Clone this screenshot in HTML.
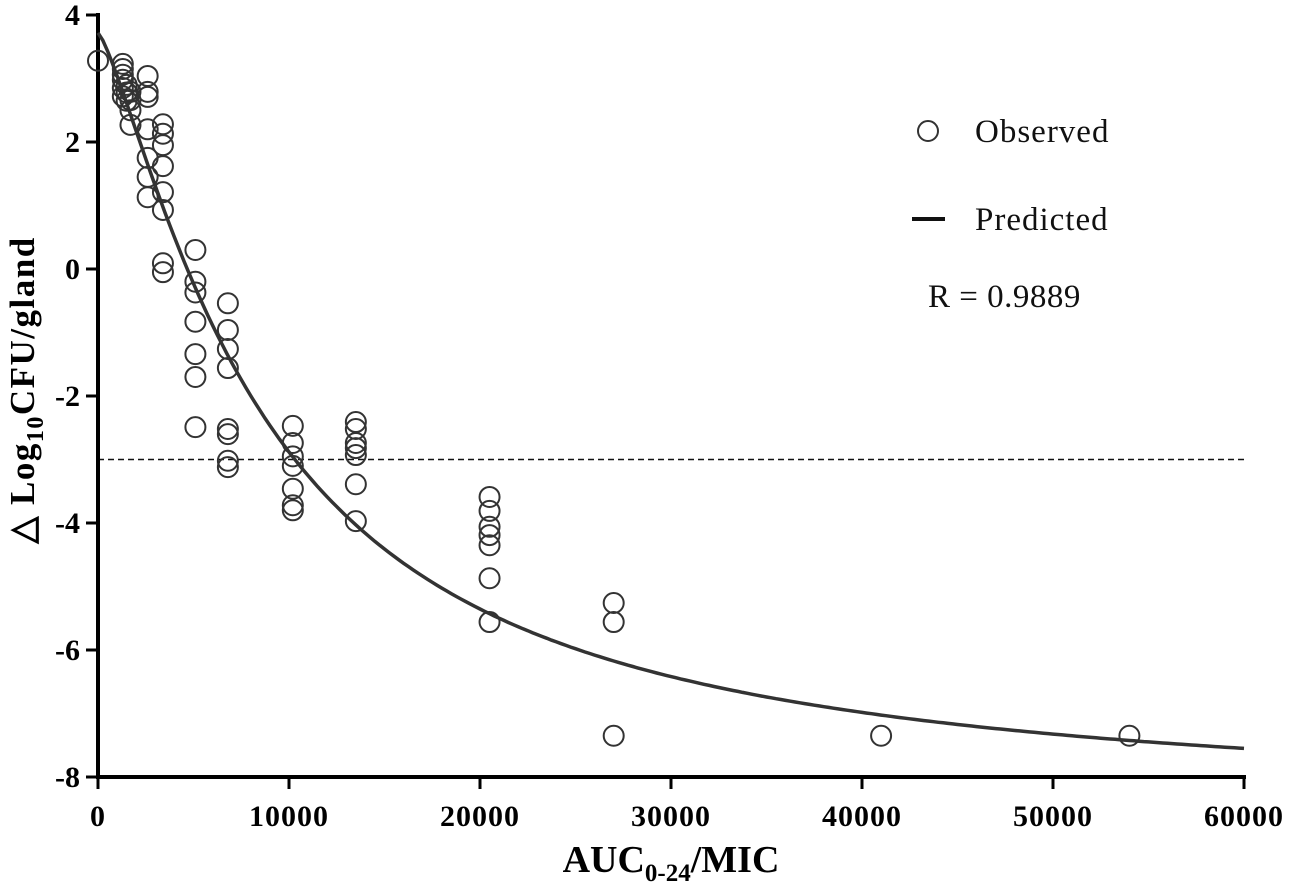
<!DOCTYPE html>
<html><head><meta charset="utf-8"><style>
html,body{margin:0;padding:0;background:#fff;}
svg{display:block;font-family:"Liberation Serif",serif;}
</style></head><body>
<svg id="chart" width="1293" height="887" viewBox="0 0 1293 887">
<g id="axes"></g>
<g id="marks"></g>
<text transform="translate(34,390) rotate(-90)" text-anchor="middle" font-weight="bold" font-size="35" letter-spacing="1.5" fill="#000">△ Log<tspan font-size="24" dy="9">10</tspan><tspan dy="-9">CFU/gland</tspan></text>
<text x="671" y="872" text-anchor="middle" font-weight="bold" font-size="38" fill="#000">AUC<tspan font-size="25" dy="9">0-24</tspan><tspan dy="-9">/MIC</tspan></text>
<g>
<circle cx="928" cy="131" r="10" fill="none" stroke="#333" stroke-width="2"/>
<text x="975" y="142" font-size="33" letter-spacing="1" fill="#111">Observed</text>
<line x1="912" y1="219" x2="945" y2="219" stroke="#111" stroke-width="4"/>
<text x="975" y="230" font-size="33" letter-spacing="1" fill="#111">Predicted</text>
<text x="928" y="307" font-size="33" letter-spacing="0.5" fill="#111">R = 0.9889</text>
</g>
</svg>
<script>
const xTicks=[0,10000,20000,30000,40000,50000,60000];
const yTicks=[4,2,0,-2,-4,-6,-8];
const obsX=[0,1300,1300,1300,1300,1300,1300,1500,1500,1500,1700,1700,1700,1700,2600,2600,2600,2600,2600,2600,2600,3400,3400,3400,3400,3400,3400,3400,3400,5100,5100,5100,5100,5100,5100,5100,6800,6800,6800,6800,6800,6800,6800,6800,10200,10200,10200,10200,10200,10200,10200,13500,13500,13500,13500,13500,13500,13500,20500,20500,20500,20500,20500,20500,20500,27000,27000,27000,41000,54000];
const obsY=[3.28,3.23,3.15,3.06,2.98,2.85,2.72,2.9,2.78,2.65,2.79,2.66,2.5,2.27,3.04,2.79,2.71,2.2,1.75,1.45,1.13,2.28,2.13,1.95,1.62,1.21,0.93,0.09,-0.05,0.3,-0.2,-0.37,-0.83,-1.34,-1.7,-2.49,-0.54,-0.96,-1.26,-1.56,-2.52,-2.6,-3.02,-3.12,-2.47,-2.74,-2.95,-3.1,-3.46,-3.72,-3.8,-2.41,-2.52,-2.74,-2.82,-2.93,-3.39,-3.97,-3.59,-3.81,-4.06,-4.19,-4.35,-4.87,-5.56,-5.26,-5.56,-7.35,-7.35,-7.35];
const modelE0=3.72, modelEmax=12.2, modelEC50=8810, modelHill=1.3;
const threshold=-3;

const X=v=>98+(v/60000)*1146;
const Y=v=>269-v*63.5;
const NS="http://www.w3.org/2000/svg";
function mk(tag,parent,attrs){const e=document.createElementNS(NS,tag);for(const k in attrs)e.setAttribute(k,attrs[k]);parent.appendChild(e);return e;}
const svg=document.getElementById('chart');
const axes=document.getElementById('axes');
const marks=document.getElementById('marks');

const dl=mk('line',axes,{x1:X(0),x2:X(60000),y1:Y(threshold),y2:Y(threshold),stroke:'#111','stroke-width':1.5,'stroke-dasharray':'6,4'});



const ya=mk('line',axes,{x1:98,x2:98,y1:13,y2:779,stroke:'#000','stroke-width':4});


const xa=mk('line',axes,{x1:96,x2:1246,y1:777,y2:777,stroke:'#000','stroke-width':4});



yTicks.forEach(t=>{
 const l=mk('line',axes,{x1:86,x2:98,y1:Y(t),y2:Y(t),stroke:'#000','stroke-width':3});
 
 
 const tx=mk('text',axes,{x:80,y:Y(t)+10,'text-anchor':'end','font-weight':'bold','font-size':30,fill:'#000'});
 tx.textContent=t;
 
 
});
xTicks.forEach(t=>{
 const l=mk('line',axes,{x1:X(t),x2:X(t),y1:777,y2:789,stroke:'#000','stroke-width':3});
 
 
 const tx=mk('text',axes,{x:X(t),y:826,'text-anchor':'middle','font-weight':'bold','font-size':30,'letter-spacing':'1',fill:'#000'});
 tx.textContent=t;
 
 
});

obsX.forEach((x,i)=>{
 const c=mk('circle',marks,{cx:X(x),cy:Y(obsY[i]),r:10,fill:'none',stroke:'#333','stroke-width':2});
 
 
});

let d='';
for(let x=0;x<=60000;x+=250){
 const f=Math.pow(x,modelHill)/(Math.pow(modelEC50,modelHill)+Math.pow(x,modelHill));
 const e=modelE0-modelEmax*f;
 d+=(x?'L':'M')+X(x).toFixed(1)+','+Y(e).toFixed(1);
}
const p=mk('path',svg,{d:d,fill:'none',stroke:'#333','stroke-width':3.5});


</script>
</body></html>
